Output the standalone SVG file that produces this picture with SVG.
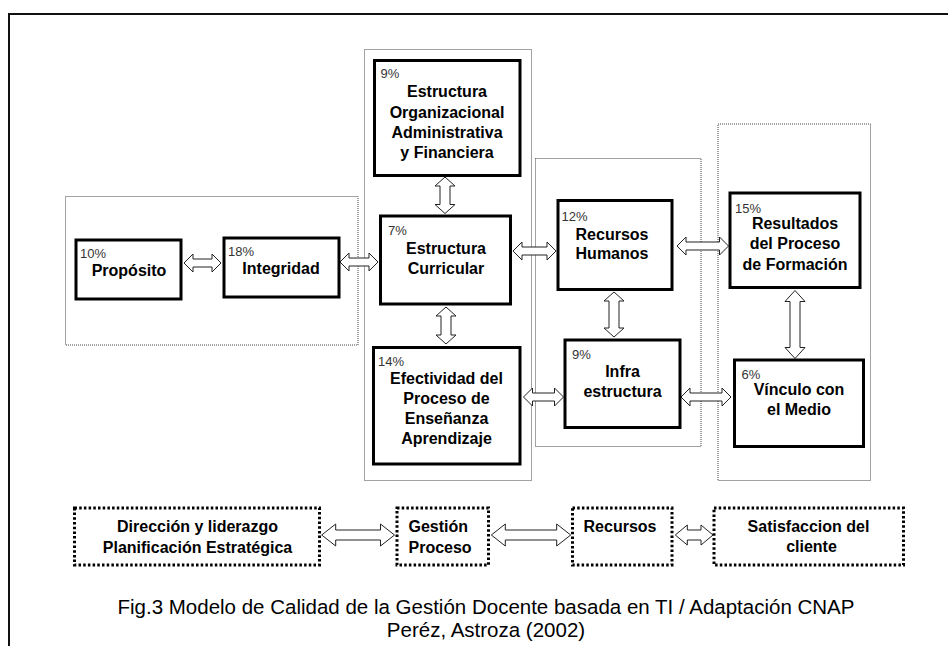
<svg xmlns="http://www.w3.org/2000/svg" width="948" height="646" viewBox="0 0 948 646">
<style>
.bg{fill:#fff}
.frame{fill:none;stroke:#111;stroke-width:2}
.grp{fill:none;stroke:#444;stroke-width:1;stroke-dasharray:1 1}
.box{fill:#fff;stroke:#000;stroke-width:3}
.dbox{fill:#fff;stroke:#000;stroke-width:3;stroke-dasharray:2.5 2.2}
.arr{fill:#fff;stroke:#222;stroke-width:1}
.t{font-family:"Liberation Sans",Arial,sans-serif;font-weight:bold;font-size:16px;fill:#000;text-anchor:middle}
.tl{font-family:"Liberation Sans",Arial,sans-serif;font-weight:bold;font-size:16px;fill:#000}
.p{font-family:"Liberation Sans",Arial,sans-serif;font-size:13px;fill:#333}
.cap{font-family:"Liberation Sans",Arial,sans-serif;font-size:20.5px;fill:#000;text-anchor:middle}
</style>
<rect class="bg" x="0" y="0" width="948" height="646"/>
<rect class="frame" x="9" y="14" width="960" height="660"/>

<g id="groups">
<rect class="grp" x="65.5" y="196.5" width="292.5" height="148.5"/>
<rect class="grp" x="364.5" y="49.5" width="167" height="431"/>
<rect class="grp" x="535.5" y="158.5" width="165.5" height="288"/>
<rect class="grp" x="718" y="124" width="152.5" height="356.5"/>
</g>

<g id="connectors">
<polygon class="arr" points="184,263 193,254 193,259 212,259 212,254 221,263 212,272 212,267 193,267 193,272"/>
<polygon class="arr" points="340,262 349,253 349,258 369,258 369,253 378,262 369,271 369,266 349,266 349,271"/>
<polygon class="arr" points="445,177 455,186 450,186 450,204.5 455,204.5 445,213.5 435,204.5 440,204.5 440,186 435,186"/>
<polygon class="arr" points="446,307 456,316 451,316 451,335 456,335 446,344 436,335 441,335 441,316 436,316"/>
<polygon class="arr" points="513,251 522,242 522,247 547,247 547,242 556,251 547,260 547,255 522,255 522,260"/>
<polygon class="arr" points="677,246 686,237 686,242 719.5,242 719.5,237 728.5,246 719.5,255 719.5,250 686,250 686,255"/>
<polygon class="arr" points="614,292 624,301 619,301 619,328 624,328 614,337 604,328 609,328 609,301 604,301"/>
<polygon class="arr" points="523.5,397 532.5,388 532.5,393 554.5,393 554.5,388 563.5,397 554.5,406 554.5,401 532.5,401 532.5,406"/>
<polygon class="arr" points="681,397 690,388 690,393 722,393 722,388 731,397 722,406 722,401 690,401 690,406"/>
<polygon class="arr" points="795,290.5 805,301.5 800,301.5 800,347.5 805,347.5 795,358.5 785,347.5 790,347.5 790,301.5 785,301.5"/>
<polygon class="arr" points="321.7,535 335.7,524 335.7,530 380.5,530 380.5,524 394.5,535 380.5,546 380.5,540 335.7,540 335.7,546"/>
<polygon class="arr" points="491.3,535 505.3,524 505.3,530 556.7,530 556.7,524 570.7,535 556.7,546 556.7,540 505.3,540 505.3,546"/>
<polygon class="arr" points="675.3,535 687.3,525 687.3,530 701,530 701,525 713,535 701,545 701,540 687.3,540 687.3,545"/>
</g>

<g id="proposito">
<rect class="box" x="76" y="240" width="105" height="59"/>
<text class="p" x="80" y="258">10%</text>
<text class="t" x="129" y="276">Propósito</text>
</g>
<g id="integridad">
<rect class="box" x="224" y="238" width="115" height="59"/>
<text class="p" x="228" y="256">18%</text>
<text class="t" x="281" y="274">Integridad</text>
</g>
<g id="estructura-org">
<rect class="box" x="374.5" y="60.5" width="145.5" height="115"/>
<text class="p" x="380.5" y="78">9%</text>
<text class="t" x="447" y="97">Estructura</text>
<text class="t" x="447" y="118">Organizacional</text>
<text class="t" x="447" y="138">Administrativa</text>
<text class="t" x="447" y="157.5">y Financiera</text>
</g>
<g id="estructura-curricular">
<rect class="box" x="380.5" y="216" width="130" height="88"/>
<text class="p" x="388" y="235">7%</text>
<text class="t" x="446" y="253.5">Estructura</text>
<text class="t" x="446" y="273.5">Curricular</text>
</g>
<g id="efectividad">
<rect class="box" x="373.5" y="347.5" width="146.5" height="116.5"/>
<text class="p" x="378" y="366">14%</text>
<text class="t" x="446.5" y="383.5">Efectividad del</text>
<text class="t" x="446.5" y="404">Proceso de</text>
<text class="t" x="446.5" y="424">Enseñanza</text>
<text class="t" x="446.5" y="444">Aprendizaje</text>
</g>
<g id="recursos-humanos">
<rect class="box" x="558" y="200.5" width="114" height="89"/>
<text class="p" x="561.5" y="221">12%</text>
<text class="t" x="612" y="239.5">Recursos</text>
<text class="t" x="612" y="259">Humanos</text>
</g>
<g id="infraestructura">
<rect class="box" x="565" y="340" width="115" height="87.5"/>
<text class="p" x="572" y="358.5">9%</text>
<text class="t" x="622.5" y="377">Infra</text>
<text class="t" x="622.5" y="397">estructura</text>
</g>
<g id="resultados">
<rect class="box" x="730" y="193" width="130" height="94.5"/>
<text class="p" x="735" y="212.5">15%</text>
<text class="t" x="795" y="228.5">Resultados</text>
<text class="t" x="795" y="249">del Proceso</text>
<text class="t" x="795" y="269.5">de Formación</text>
</g>
<g id="vinculo">
<rect class="box" x="734.5" y="360" width="129" height="86.5"/>
<text class="p" x="741.5" y="379">6%</text>
<text class="t" x="799" y="394.5">Vínculo con</text>
<text class="t" x="799" y="415">el Medio</text>
</g>

<g id="direccion">
<rect class="dbox" x="74.5" y="508" width="245" height="57"/>
<text class="t" x="197.5" y="532">Dirección y liderazgo</text>
<text class="t" x="197.5" y="553">Planificación Estratégica</text>
</g>
<g id="gestion">
<rect class="dbox" x="397" y="508" width="91.5" height="57"/>
<text class="tl" x="408.5" y="532">Gestión</text>
<text class="tl" x="408.5" y="553">Proceso</text>
</g>
<g id="recursos">
<rect class="dbox" x="572.5" y="508" width="99.5" height="57"/>
<text class="t" x="620" y="532">Recursos</text>
</g>
<g id="satisfaccion">
<rect class="dbox" x="714" y="508" width="189.5" height="57"/>
<text class="t" x="808.5" y="532">Satisfaccion del</text>
<text class="t" x="811.5" y="552">cliente</text>
</g>

<g id="caption">
<text class="cap" x="486" y="613.5">Fig.3 Modelo de Calidad de la Gestión Docente basada en TI / Adaptación CNAP</text>
<text class="cap" x="486" y="637">Peréz, Astroza (2002)</text>
</g>
</svg>
